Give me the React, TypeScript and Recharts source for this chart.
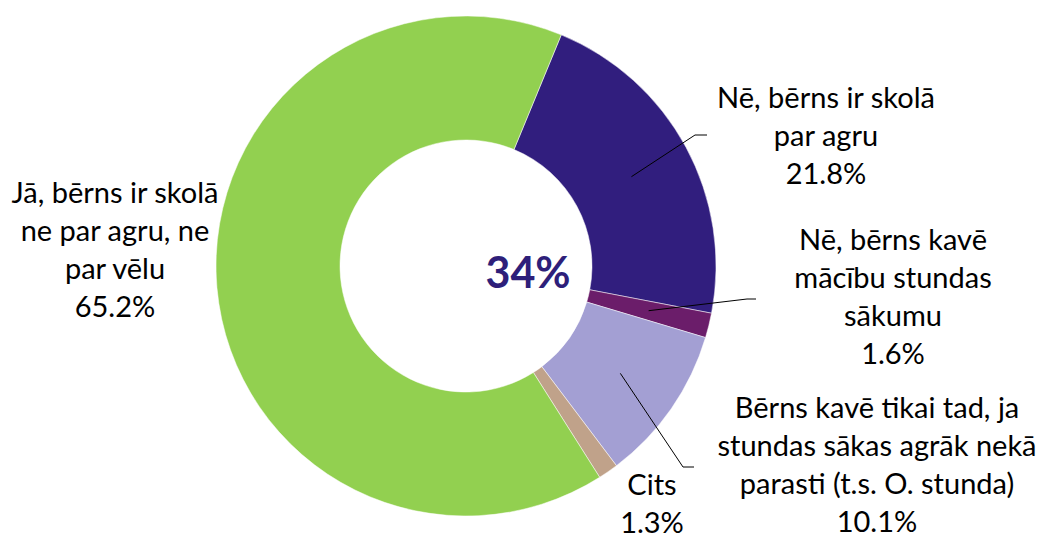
import React from "react";
import { PieChart, Pie, Cell } from "recharts";

// answers, clockwise from the top
const categories = [
  "Nē, bērns ir skolā par agru",
  "Nē, bērns kavē mācību stundas sākumu",
  "Bērns kavē tikai tad, ja stundas sākas agrāk nekā parasti (t.s. O. stunda)",
  "Cits",
  "Jā, bērns ir skolā ne par agru, ne par vēlu",
];
const shares = [21.8, 1.6, 10.1, 1.3, 65.2];
const labelLines = [
  ["Nē, bērns ir skolā", "par agru"],
  ["Nē, bērns kavē", "mācību stundas", "sākumu"],
  ["Bērns kavē tikai tad, ja", "stundas sākas agrāk nekā", "parasti (t.s. O. stunda)"],
  ["Cits"],
  ["Jā, bērns ir skolā", "ne par agru, ne", "par vēlu"],
];
const centerText = "34%";

const colors = ["#311e7e", "#6b1d6a", "#a39fd3", "#c0a28a", "#92d050"];

const data = categories.map((name, i) => ({ name, value: shares[i] }));

const CX = 466;
const CY = 266;
const RADIAN = Math.PI / 180;
const FONT = "Lato, 'Noto Sans', sans-serif";
const LINE_H = 38;

// label placement relative to the pie centre: text centre x, first baseline y,
// and optional leader-line elbow / end points
const layout = [
  { tx: 360, ty: -158, elbow: [229, -131], end: [241, -131] },
  { tx: 427, ty: -16, elbow: [281, 33], end: [290, 33] },
  { tx: 411, ty: 152, elbow: [217, 201], end: [228, 201] },
  { tx: 186, ty: 229 },
  { tx: -351, ty: -63 },
];

function renderLabel(props: any) {
  const { cx, cy, midAngle, innerRadius, outerRadius, index, value } = props;
  const l = layout[index];
  const r = (innerRadius + outerRadius) / 2;
  const sx = cx + r * Math.cos(-midAngle * RADIAN);
  const sy = cy + r * Math.sin(-midAngle * RADIAN);
  const lines = [...labelLines[index], `${value.toFixed(1)}%`];
  return (
    <g key={`lbl-${index}`}>
      {l.elbow && l.end && (
        <polyline
          points={`${sx},${sy} ${cx + l.elbow[0]},${cy + l.elbow[1]} ${cx + l.end[0]},${cy + l.end[1]}`}
          fill="none"
          stroke="#000"
          strokeWidth={1}
        />
      )}
      <text
        x={cx + l.tx}
        y={cy + l.ty}
        textAnchor="middle"
        fill="#000"
        fontFamily={FONT}
        fontSize={29}
      >
        {lines.map((t, i) => (
          <tspan key={i} x={cx + l.tx} y={cy + l.ty + i * LINE_H}>
            {t}
          </tspan>
        ))}
      </text>
    </g>
  );
}

export default function App() {
  return (
    <div style={{ position: "absolute", left: 0, top: 0, background: "#fff" }}>
      <PieChart width={1044} height={538} margin={{ top: 0, right: 0, bottom: 0, left: 0 }}>
        <Pie
          data={data}
          dataKey="value"
          nameKey="name"
          cx={CX}
          cy={CY}
          innerRadius={126}
          outerRadius={250}
          startAngle={67.6}
          endAngle={-292.4}
          stroke="#ffffff"
          strokeWidth={0.5}
          label={renderLabel}
          labelLine={false}
          isAnimationActive={false}
        >
          {data.map((d, i) => (
            <Cell key={d.name} fill={colors[i]} />
          ))}
        </Pie>
        <text
          x={CX + 62}
          y={CY + 22}
          textAnchor="middle"
          fill="#2e1f7a"
          fontFamily={FONT}
          fontWeight={700}
          fontSize={43}
        >
          {centerText}
        </text>
      </PieChart>
    </div>
  );
}
